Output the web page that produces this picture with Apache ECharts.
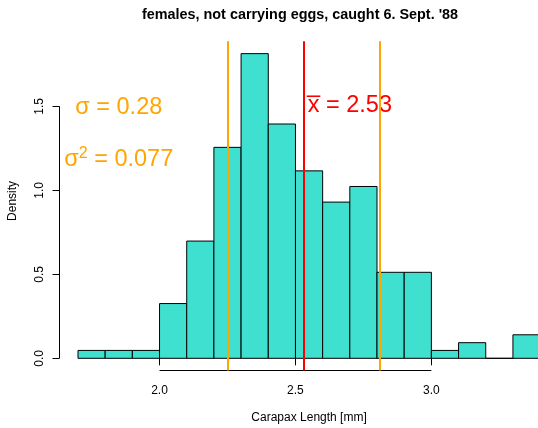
<!DOCTYPE html>
<html>
<head>
<meta charset="utf-8">
<script src="https://cdn.jsdelivr.net/npm/echarts@6/dist/echarts.min.js"></script>
<style>
  html, body { margin: 0; padding: 0; background: #fff; }
  #chart { width: 538px; height: 428px; }
</style>
</head>
<body>
<div id="chart"></div>
<script>
// Histogram breaks (bin edges, mm) and the density of each bin
const breaks  = [1.7, 1.8, 1.9, 2.0, 2.1, 2.2, 2.3, 2.4, 2.5, 2.6, 2.7, 2.8, 2.9, 3.0, 3.1, 3.2, 3.3, 3.4];
const density = [0.047, 0.047, 0.047, 0.326, 0.698, 1.256, 1.814, 1.395, 1.116, 0.930, 1.023, 0.512, 0.512, 0.047, 0.093, 0.0, 0.140];

// Tick positions
const xTicks = [2.0, 2.5, 3.0];
const yTicks = [0.0, 0.5, 1.0, 1.5];

// Summary statistics shown on the plot
const meanValue = 2.53;
const sdValue = 0.28;
const varValue = 0.077;

// Axis limits (data range widened by 4% on each side)
const xLim = [1.632, 3.468];
const yLim = [-0.0726, 1.8874];

const FONT = '"Liberation Sans", Arial, Helvetica, sans-serif';
const ORANGE = '#FFA500';
const RED = '#FF0000';

const bins = density.map((d, i) => [breaks[i], breaks[i + 1], d]);

const chart = echarts.init(document.getElementById('chart'), null, { renderer: 'canvas' });

const option = {
  animation: false,
  backgroundColor: '#ffffff',
  textStyle: { fontFamily: FONT },
  grid: {
    left: 59.5, top: 41.3, width: 499.1, height: 329.2,
    containLabel: false, outerBoundsMode: 'none'
  },
  graphic: [{
    type: 'text',
    x: 300, y: 15,
    style: {
      text: "females, not carrying eggs, caught 6. Sept. '88",
      font: 'bold 14.4px ' + FONT,
      fill: '#000', align: 'center', verticalAlign: 'middle'
    }
  }],
  xAxis: {
    type: 'value', min: xLim[0], max: xLim[1],
    name: 'Carapax Length [mm]', nameLocation: 'middle', nameGap: 41,
    nameTextStyle: { fontSize: 12, color: '#000', fontFamily: FONT, lineHeight: 12 },
    axisLine: { show: false },
    splitLine: { show: false },
    axisTick: { show: true, length: 7, inside: false, customValues: xTicks, lineStyle: { color: '#000', width: 1 } },
    axisLabel: {
      customValues: xTicks, margin: 14, fontSize: 12, color: '#000', fontFamily: FONT, lineHeight: 12,
      formatter: v => v.toFixed(1)
    }
  },
  yAxis: {
    type: 'value', min: yLim[0], max: yLim[1],
    name: 'Density', nameLocation: 'middle', nameGap: 41, nameRotate: 90,
    nameTextStyle: { fontSize: 12, color: '#000', fontFamily: FONT, lineHeight: 12, padding: [0, 0, 0, 10] },
    axisLine: { show: false },
    splitLine: { show: false },
    axisTick: { show: true, length: 7, inside: false, customValues: yTicks, lineStyle: { color: '#000', width: 1 } },
    axisLabel: {
      customValues: yTicks, margin: 14, rotate: 90, fontSize: 12, color: '#000', fontFamily: FONT, lineHeight: 12,
      formatter: v => v.toFixed(1)
    }
  },
  series: [
    {
      // histogram bars
      type: 'custom',
      data: bins,
      z: 2,
      renderItem: function (params, api) {
        const p0 = api.coord([api.value(0), 0]);
        const p1 = api.coord([api.value(1), api.value(2)]);
        return {
          type: 'rect',
          shape: { x: p0[0], y: p1[1], width: p1[0] - p0[0], height: p0[1] - p1[1] },
          style: { fill: '#40E0D0', stroke: '#000', lineWidth: 1 }
        };
      }
    },
    {
      // x axis line, spanning first to last tick
      type: 'line', clip: false, silent: true, symbol: 'none', z: 3,
      lineStyle: { color: '#000', width: 1 },
      data: [[xTicks[0], yLim[0]], [xTicks[xTicks.length - 1], yLim[0]]]
    },
    {
      // y axis line, spanning first to last tick
      type: 'line', clip: false, silent: true, symbol: 'none', z: 3,
      lineStyle: { color: '#000', width: 1 },
      data: [[xLim[0], yTicks[0]], [xLim[0], yTicks[yTicks.length - 1]]]
    },
    {
      // annotations: standard deviation, variance, mean
      type: 'scatter', symbolSize: 0, silent: true, z: 4,
      itemStyle: { opacity: 1 },
      data: [
        { value: [1.85, 1.5], label: { formatter: '{a|σ = ' + sdValue.toFixed(2) + '}', color: ORANGE, offset: [0, 1] } },
        { value: [1.85, 1.2], label: { formatter: '{a|σ}{s|2}{a| = ' + varValue.toFixed(3) + '}', color: ORANGE, offset: [0, 3] } },
        { value: [2.7, 1.5], label: { formatter: '{a|x\u0305 = ' + meanValue.toFixed(2) + '}', color: RED, offset: [0, -1] } }
      ],
      label: {
        show: true, position: 'inside', fontFamily: FONT, opacity: 1,
        rich: {
          a: { fontSize: 23.5, fontFamily: FONT, lineHeight: 28 },
          s: { fontSize: 16, fontFamily: FONT, verticalAlign: 'top', lineHeight: 15 }
        }
      }
    },
    {
      // mean and mean ± sd reference lines
      type: 'line', data: [], z: 5, silent: true,
      markLine: {
        silent: true, symbol: ['none', 'none'], label: { show: false },
        animation: false,
        data: [
          { xAxis: meanValue - sdValue, lineStyle: { color: ORANGE, width: 2, type: 'solid', opacity: 1 } },
          { xAxis: meanValue + sdValue, lineStyle: { color: ORANGE, width: 2, type: 'solid', opacity: 1 } },
          { xAxis: meanValue, lineStyle: { color: RED, width: 2, type: 'solid', opacity: 1 } }
        ]
      }
    }
  ]
};

chart.setOption(option);
</script>
</body>
</html>
